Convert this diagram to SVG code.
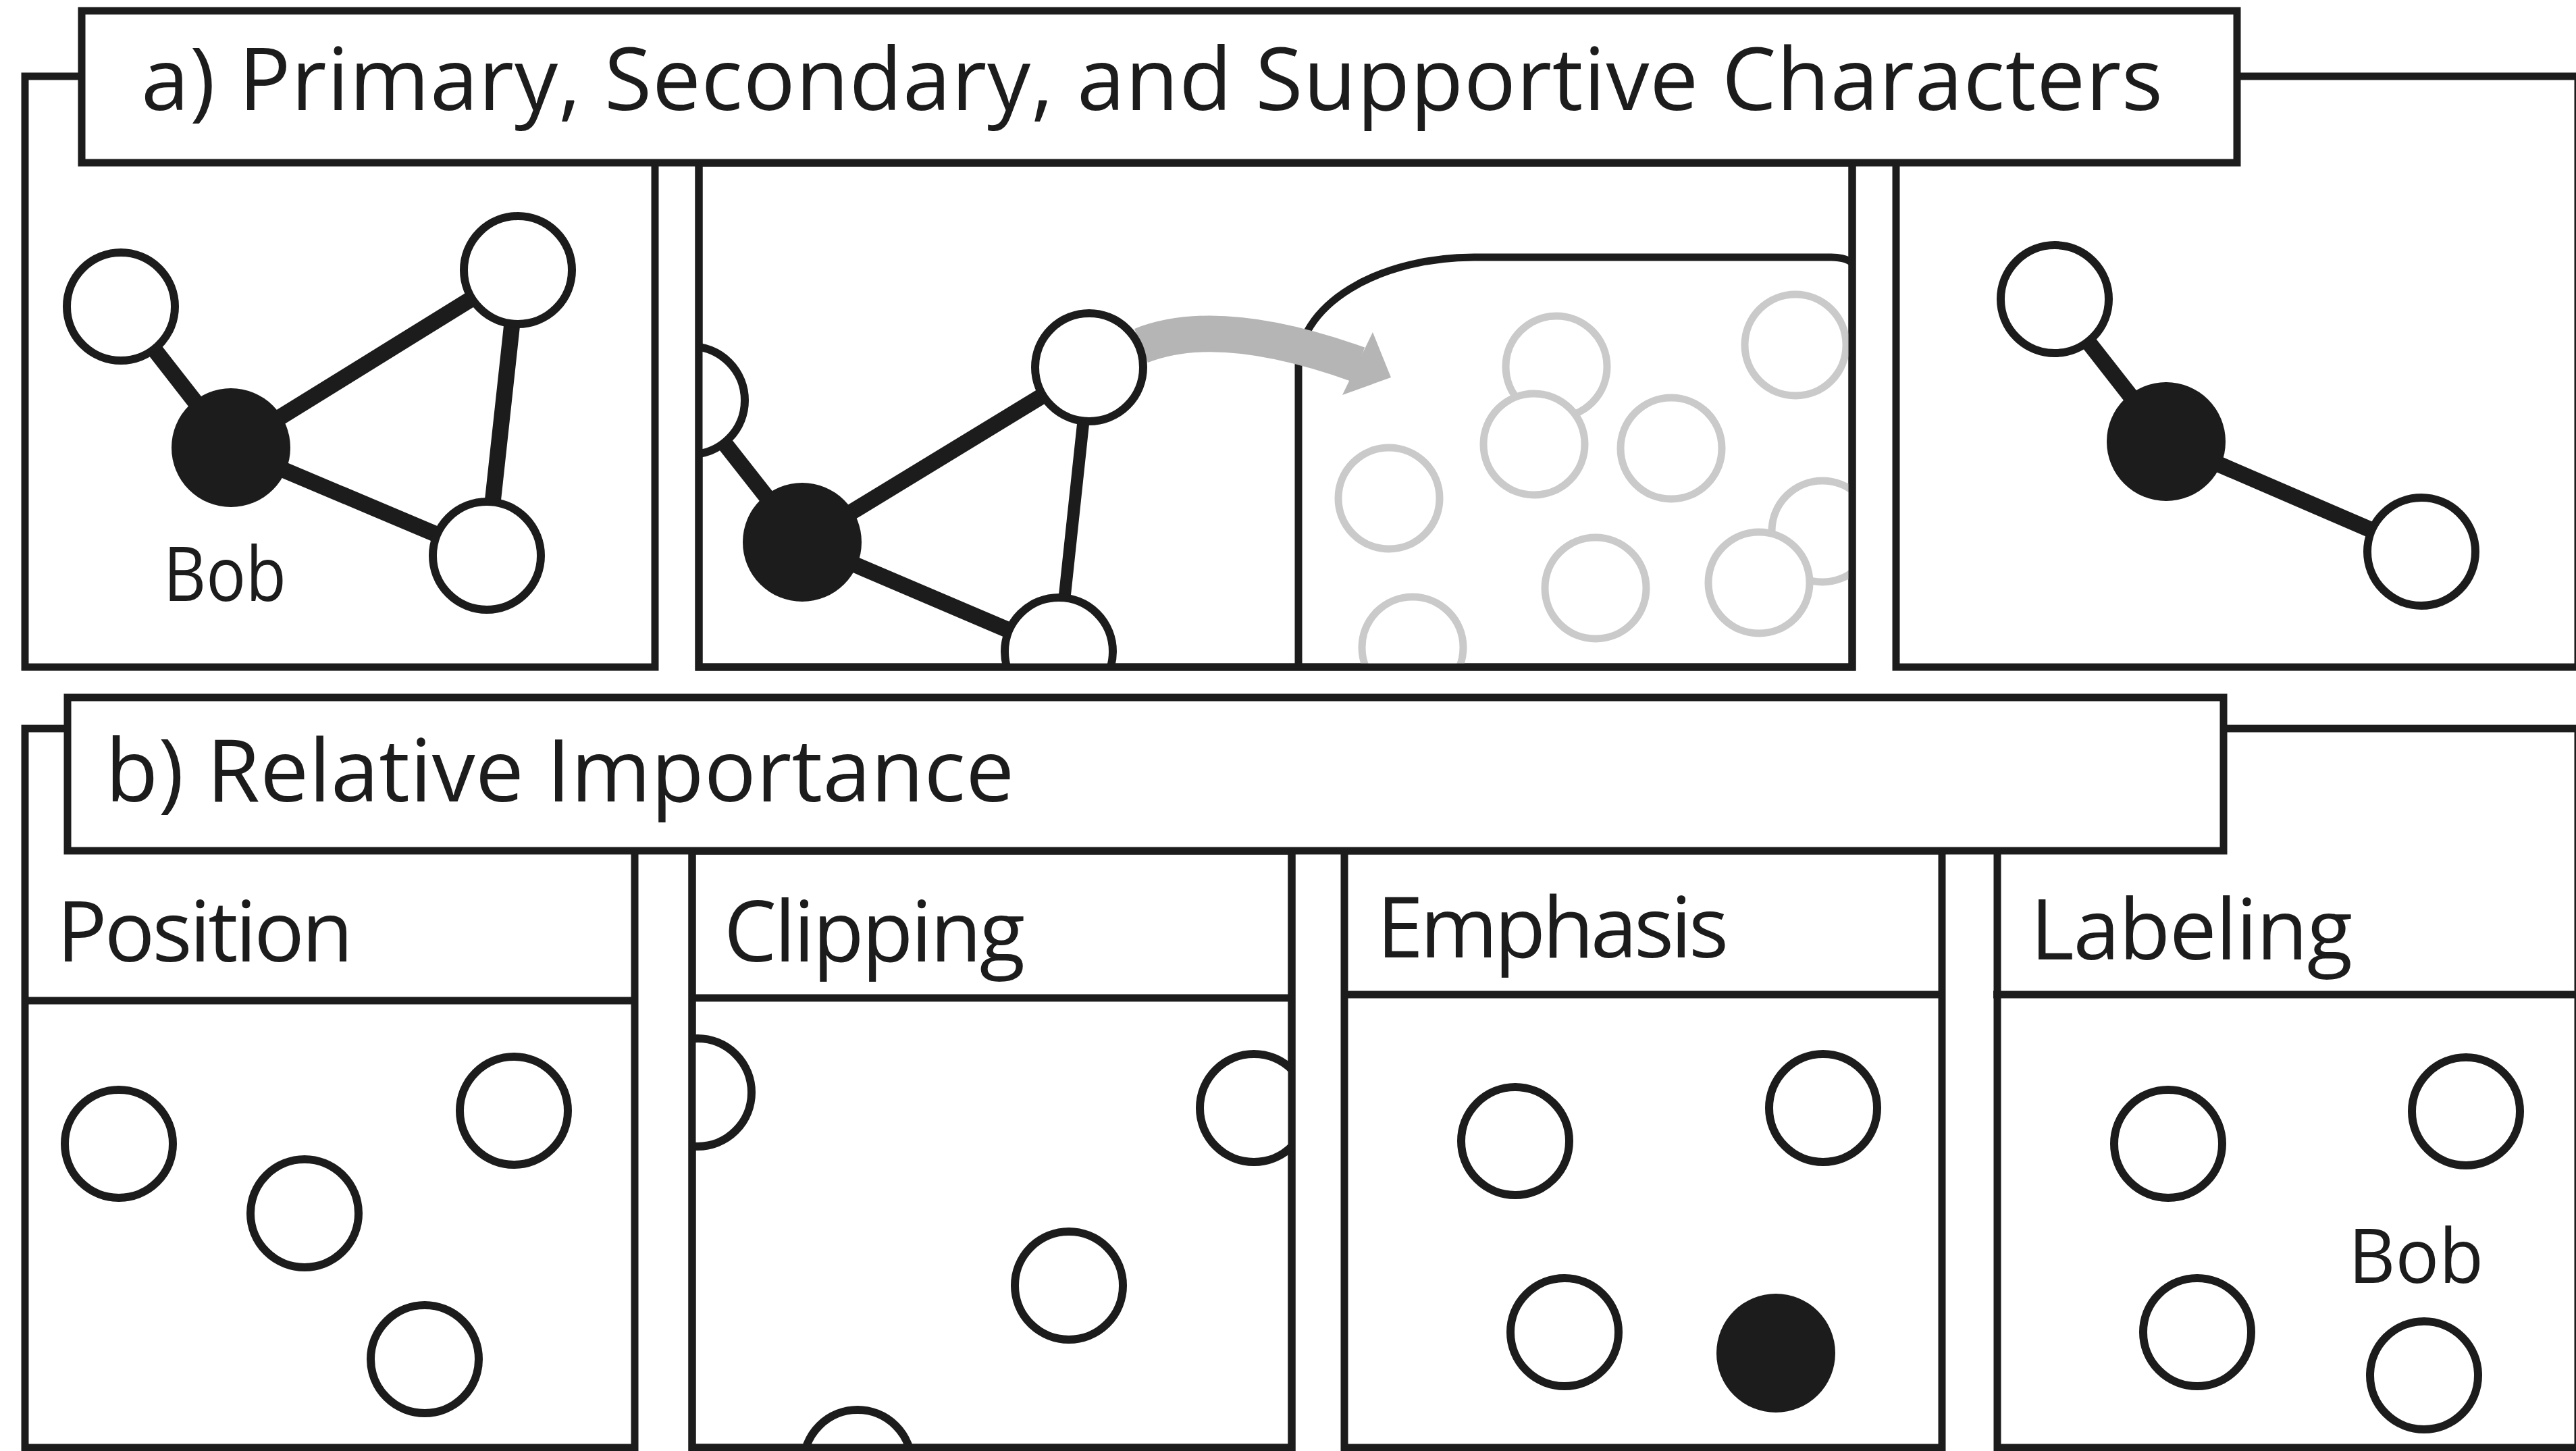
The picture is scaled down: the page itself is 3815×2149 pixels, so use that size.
<svg xmlns="http://www.w3.org/2000/svg" width="3815" height="2149" viewBox="0 0 3815 2149">
<style>
.frame{fill:#ffffff;stroke:#1c1c1c;stroke-width:11}
.sep{stroke:#1c1c1c;stroke-width:11;fill:none}
.node{fill:#ffffff;stroke:#1c1c1c;stroke-width:12}
.main{fill:#1c1c1c;stroke:none}
.ghost{fill:#ffffff;stroke:#c9cac9;stroke-width:11}
.edge{stroke:#1c1c1c;stroke-width:24;stroke-linecap:butt;fill:none}
.title{font-family:"Open Sans","Noto Sans","DejaVu Sans",sans-serif;font-size:128px;fill:#1c1c1c}
.head{font-family:"Open Sans","Noto Sans","DejaVu Sans",sans-serif;font-size:124px;fill:#1c1c1c}
.lbl{font-family:"Open Sans","Noto Sans","DejaVu Sans",sans-serif;font-size:112px;fill:#1c1c1c}
</style>
<defs>
<clipPath id="cA2"><rect x="1035" y="241" width="1708" height="747"/></clipPath>
<clipPath id="cB2"><rect x="1025" y="1478" width="888" height="666"/></clipPath>
</defs>
<rect width="3815" height="2149" fill="#ffffff"/>

<!-- Section a panels -->
<g id="panel-a1">
<rect class="frame" x="37" y="113" width="933" height="875"/>
</g>
<g id="panel-a2">
<rect class="frame" x="1035" y="241" width="1708" height="747"/>
</g>
<g id="panel-a3">
<rect class="frame" x="2808" y="113" width="1010" height="875"/>
</g>

<!-- Section a connectors -->
<g id="connectors-a">
<line class="edge" x1="179" y1="454" x2="342" y2="663"/>
<line class="edge" x1="342" y1="663" x2="767" y2="400"/>
<line class="edge" x1="342" y1="663" x2="721" y2="823"/>
<line class="edge" x1="767" y1="400" x2="721" y2="823"/>
<g clip-path="url(#cA2)">
<line class="edge" x1="1023" y1="593" x2="1188" y2="803"/>
<line class="edge" x1="1188" y1="803" x2="1613" y2="544"/>
<line class="edge" x1="1188" y1="803" x2="1568" y2="965"/>
<line class="edge" style="stroke-width:18" x1="1613" y1="544" x2="1568" y2="965"/>
</g>
<line class="edge" x1="3043" y1="443" x2="3208" y2="654"/>
<line class="edge" x1="3208" y1="654" x2="3586" y2="817"/>
</g>

<!-- Panel a1 nodes -->
<g id="a1-n1"><circle class="node" cx="179" cy="454" r="80"/></g>
<g id="a1-bob"><circle class="main" cx="342" cy="663" r="88"/></g>
<g id="a1-n2"><circle class="node" cx="767" cy="400" r="80"/></g>
<g id="a1-n3"><circle class="node" cx="721" cy="823" r="80"/></g>
<g id="a1-label"><text class="lbl" x="242" y="890" textLength="182" lengthAdjust="spacingAndGlyphs">Bob</text></g>

<!-- Panel a2 content -->
<g id="a2-content" clip-path="url(#cA2)">
<g id="a2-region">
<path class="sep" d="M1923,995 L1923,541 A260,160 0 0 1 2183,381 L2712,381 Q2738,381 2748,394"/>
</g>
<g id="a2-ghosts">
<circle class="ghost" cx="2305" cy="543" r="75"/>
<circle class="ghost" cx="2272" cy="658" r="75"/>
<circle class="ghost" cx="2475" cy="664" r="75"/>
<circle class="ghost" cx="2659" cy="511" r="75"/>
<circle class="ghost" cx="2057" cy="738" r="75"/>
<circle class="ghost" cx="2699" cy="787" r="75"/>
<circle class="ghost" cx="2363" cy="871" r="75"/>
<circle class="ghost" cx="2605" cy="863" r="75"/>
<circle class="ghost" cx="2092" cy="959" r="75"/>
</g>
<g id="a2-arrow">
<path d="M1690,512 Q1806,466 2012,540" fill="none" stroke="#b4b5b4" stroke-width="54"/>
<polygon points="2033,492 2060,559 1988,585" fill="#b4b5b4"/>
</g>
<g id="a2-n0"><circle class="node" cx="1023" cy="593" r="80"/></g>
<g id="a2-main"><circle class="main" cx="1188" cy="803" r="88"/></g>
<g id="a2-n1"><circle class="node" cx="1613" cy="544" r="80"/></g>
<g id="a2-n2"><circle class="node" cx="1568" cy="965" r="80"/></g>
</g>
<rect x="1035" y="241" width="1708" height="747" fill="none" stroke="#1c1c1c" stroke-width="11"/>

<!-- Panel a3 nodes -->
<g id="a3-n1"><circle class="node" cx="3043" cy="443" r="80"/></g>
<g id="a3-main"><circle class="main" cx="3208" cy="654" r="88"/></g>
<g id="a3-n2"><circle class="node" cx="3586" cy="817" r="80"/></g>

<!-- Title a -->
<g id="title-a">
<rect class="frame" x="121" y="16" width="3192" height="225"/>
<text class="title" x="209" y="163" textLength="2994">a) Primary, Secondary, and Supportive Characters</text>
</g>

<!-- Section b panels -->
<g id="panel-position">
<rect class="frame" x="37" y="1079" width="903" height="1065"/>
<line class="sep" x1="37" y1="1482" x2="940" y2="1482"/>
<text class="head" x="84" y="1424" textLength="439">Position</text>
<circle class="node" cx="176" cy="1694" r="80"/>
<circle class="node" cx="451" cy="1797" r="80"/>
<circle class="node" cx="761" cy="1645" r="80"/>
<circle class="node" cx="629" cy="2013" r="80"/>
</g>

<g id="panel-clipping">
<rect class="frame" x="1025" y="1260" width="888" height="884"/>
<g clip-path="url(#cB2)">
<circle class="node" cx="1033" cy="1618" r="80"/>
<circle class="node" cx="1857" cy="1641" r="80"/>
<circle class="node" cx="1583" cy="1904" r="80"/>
<circle class="node" cx="1270" cy="2168" r="80"/>
</g>
<rect x="1025" y="1260" width="888" height="884" fill="none" stroke="#1c1c1c" stroke-width="11"/>
<line class="sep" x1="1025" y1="1478" x2="1913" y2="1478"/>
<text class="head" x="1072" y="1424" textLength="446">Clipping</text>
</g>

<g id="panel-emphasis">
<rect class="frame" x="1991" y="1260" width="885" height="884"/>
<line class="sep" x1="1991" y1="1473" x2="2876" y2="1473"/>
<text class="head" x="2039" y="1418" textLength="521">Emphasis</text>
<circle class="node" cx="2244" cy="1690" r="80"/>
<circle class="node" cx="2700" cy="1641" r="80"/>
<circle class="node" cx="2317" cy="1973" r="80"/>
<circle class="main" cx="2630" cy="2004" r="88"/>
</g>

<g id="panel-labeling">
<rect class="frame" x="2958" y="1079" width="860" height="1065"/>
<line class="sep" x1="2952" y1="1473" x2="3818" y2="1473"/>
<text class="head" x="3007" y="1421" textLength="477">Labeling</text>
<circle class="node" cx="3211" cy="1694" r="80"/>
<circle class="node" cx="3652" cy="1646" r="80"/>
<circle class="node" cx="3254" cy="1973" r="80"/>
<circle class="node" cx="3590" cy="2037" r="80"/>
<text class="lbl" x="3478" y="1900" textLength="200" lengthAdjust="spacingAndGlyphs">Bob</text>
</g>

<!-- Title b -->
<g id="title-b">
<rect class="frame" x="100" y="1033" width="3193" height="227"/>
<text class="title" x="156" y="1187" textLength="1346">b) Relative Importance</text>
</g>
</svg>
